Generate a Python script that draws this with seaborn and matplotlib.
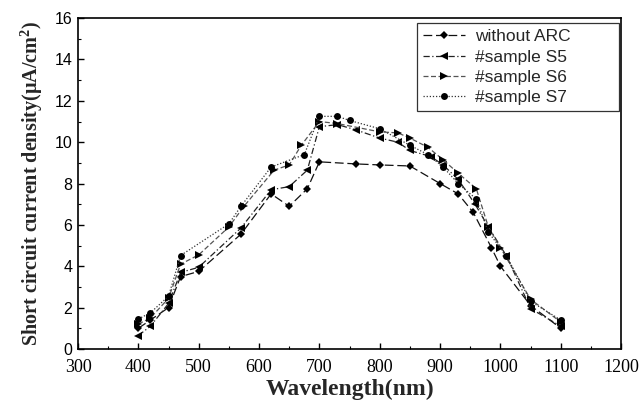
import matplotlib
matplotlib.use("Agg")
import matplotlib.pyplot as plt
import seaborn as sns
import pandas as pd
from matplotlib.ticker import MultipleLocator

# ---- data ----
wl_noarc = [400, 420, 450, 470, 500, 570, 620, 650, 680, 700, 760, 800, 850, 900, 930, 955, 985, 1000, 1050, 1100]
jsc_noarc = [1.0, 1.4, 2.0, 3.5, 3.75, 5.55, 7.5, 6.9, 7.75, 9.05, 8.95, 8.9, 8.85, 8.0, 7.5, 6.6, 4.9, 4.0, 2.1, 1.0]

wl_s5 = [400, 420, 450, 470, 500, 570, 620, 650, 680, 700, 730, 760, 800, 830, 850, 885, 905, 930, 958, 980, 1010, 1050, 1100]
jsc_s5 = [0.65, 1.1, 2.2, 3.7, 3.95, 5.85, 7.7, 7.85, 8.65, 10.75, 10.85, 10.6, 10.2, 10.0, 9.6, 9.3, 8.9, 8.2, 7.0, 5.9, 4.5, 1.95, 1.1]

wl_s6 = [400, 420, 450, 470, 500, 550, 575, 625, 650, 670, 700, 730, 800, 830, 850, 880, 905, 930, 960, 980, 1000, 1050, 1100]
jsc_s6 = [1.2, 1.5, 2.45, 4.1, 4.55, 5.9, 6.9, 8.65, 8.9, 9.85, 11.0, 10.9, 10.5, 10.45, 10.2, 9.75, 9.15, 8.5, 7.75, 5.9, 4.9, 2.4, 1.3]

wl_s7 = [400, 420, 450, 470, 550, 570, 620, 675, 700, 730, 750, 800, 850, 880, 905, 930, 960, 980, 1010, 1050, 1100]
jsc_s7 = [1.45, 1.75, 2.55, 4.52, 6.05, 6.9, 8.8, 9.4, 11.25, 11.25, 11.05, 10.65, 9.85, 9.4, 8.8, 8.0, 7.25, 5.65, 4.5, 2.3, 1.4]

labels = ["without ARC", "#sample S5", "#sample S6", "#sample S7"]
x_ticks = [300, 400, 500, 600, 700, 800, 900, 1000, 1100, 1200]
y_ticks = [0, 2, 4, 6, 8, 10, 12, 14, 16]

series = [
    (wl_noarc, jsc_noarc, labels[0], "D", (0, (7, 3)), "#111111", 4),
    (wl_s5, jsc_s5, labels[1], "<", (0, (5, 2, 1, 2)), "#222222", 5.5),
    (wl_s6, jsc_s6, labels[2], ">", (0, (4, 2)), "#555555", 5.5),
    (wl_s7, jsc_s7, labels[3], "o", (0, (1, 1.5)), "#333333", 5),
]

sns.set_theme(style="ticks")
plt.rcParams["font.family"] = ["Liberation Sans", "DejaVu Sans"]
plt.rcParams["mathtext.fontset"] = "custom"
plt.rcParams["mathtext.rm"] = "Liberation Serif"
plt.rcParams["mathtext.bf"] = "Liberation Serif:bold"

fig = plt.figure(figsize=(6.42, 4.12), dpi=100)
ax = fig.add_axes([0.1215, 0.153, 0.846, 0.803])

for xs, ys, lab, mk, ls, col, ms in series:
    df = pd.DataFrame({"Wavelength": xs, "Jsc": ys})
    sns.lineplot(data=df, x="Wavelength", y="Jsc", ax=ax, label=lab,
                 marker=mk, markersize=ms, linestyle=ls, color=col,
                 linewidth=0.9, markeredgewidth=0, markerfacecolor="black",
                 sort=False)

ax.set_xlim(300, 1200)
ax.set_ylim(0, 16)
ax.set_xticks(x_ticks)
ax.set_yticks(y_ticks)
ax.xaxis.set_minor_locator(MultipleLocator(50))
ax.yaxis.set_minor_locator(MultipleLocator(1))
ax.tick_params(axis="both", which="both", direction="in", top=False, right=False, colors="black")
ax.tick_params(axis="both", which="major", length=4, width=1)
ax.tick_params(axis="both", which="minor", length=2, width=0.8)
for lbl in ax.get_xticklabels():
    lbl.set_fontfamily("Liberation Serif")
    lbl.set_fontsize(13)
for lbl in ax.get_yticklabels():
    lbl.set_fontfamily("Liberation Sans")
    lbl.set_fontsize(11.5)
ax.tick_params(axis="x", pad=7)
ax.tick_params(axis="y", pad=4)

for sp in ax.spines.values():
    sp.set_visible(True)
    sp.set_color("black")
    sp.set_linewidth(1.2)

ax.set_xlabel("Wavelength(nm)", fontfamily="Liberation Serif", fontweight="bold",
              fontsize=17, labelpad=2)
ax.set_ylabel(r"Short circuit current density($\mathbf{\mu}$A/cm$^\mathbf{2}$)",
              fontfamily="Liberation Serif", fontweight="bold", fontsize=14.5, labelpad=7)

leg = ax.legend(loc="upper left", bbox_to_anchor=(0.624, 0.0, 0.372, 0.985),
                mode="expand", frameon=True,
                fancybox=False, edgecolor="black", fontsize=12.5, handlelength=2.4,
                borderpad=0.35, labelspacing=0.3, handletextpad=0.6, borderaxespad=0)
leg.get_frame().set_linewidth(0.9)

fig.savefig("out.png", dpi=100, facecolor="white")
